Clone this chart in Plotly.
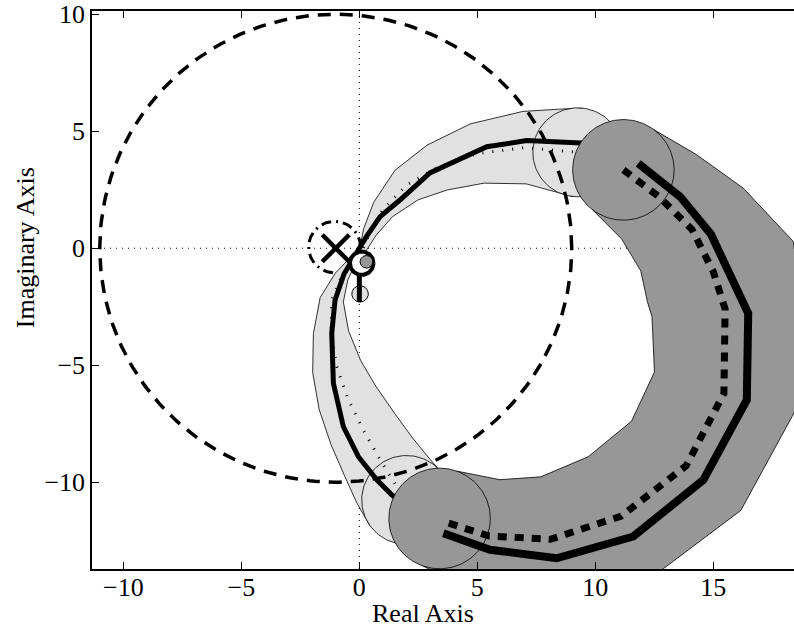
import numpy as np
import plotly.graph_objects as go

# ---- data -------------------------------------------------------------
# nominal response: centres and radii of the light uncertainty discs
nom_re = [2.0, 1.4, 0.8, 0.13, -0.5, -0.96, -1.2, -1.17, -0.75, -0.25, 0.15,
          0.45, 1.0, 2.0, 3.3, 5.0, 7.0, 8.3, 9.25]
nom_im = [-10.76, -9.9, -8.9, -7.7, -6.4, -5.06, -3.6, -2.2, -1.2, -0.5, -0.05,
          0.7, 1.65, 2.7, 3.45, 4.05, 4.3, 4.2, 4.1]
nom_rad = [1.9, 1.8, 1.65, 1.5, 1.3, 1.05, 0.75, 0.5, 0.3, 0.15, 0.15,
           0.3, 0.5, 0.8, 1.05, 1.3, 1.55, 1.75, 1.9]

# measured response drawn over the light band
meas_re = [2.0, 1.37, 0.74, -0.04, -0.68, -1.10, -1.17, -1.03, -0.65, -0.2, 0.3,
           0.88, 1.72, 2.99, 5.40, 7.09, 9.21, 10.3]
meas_im = [-11.0, -10.54, -9.90, -8.91, -7.62, -5.77, -3.63, -2.21, -1.1, -0.3, 0.5,
           1.35, 2.06, 3.22, 4.34, 4.60, 4.49, 4.45]

# low-frequency uncertainty region: centres and radii of the dark discs
reg_re = [11.19, 12.7, 14.1, 15.3, 15.6, 15.5, 13.85, 11.1, 8.1, 5.5, 3.4]
reg_im = [3.35, 2.2, 0.8, -1.0, -2.8, -6.1, -9.3, -11.45, -12.44, -12.3, -11.55]
reg_rad = [2.15, 2.4, 2.8, 3.35, 3.2, 3.1, 3.0, 2.9, 2.7, 2.45, 2.15]

# estimated low-frequency response (dashed)
est_re = [11.19, 12.7, 14.1, 15.0, 15.5, 15.45, 13.85, 11.1, 8.1, 5.5, 3.56]
est_im = [3.35, 2.2, 0.8, -1.0, -2.6, -6.2, -9.3, -11.45, -12.44, -12.3, -11.68]

# true low-frequency response (solid)
true_re = [11.82, 13.6, 14.9, 15.85, 16.48, 16.42, 14.58, 11.61, 8.36, 5.54, 3.56]
true_im = [3.63, 2.2, 0.6, -1.35, -2.78, -6.48, -9.90, -12.32, -13.25, -12.89, -12.18]

# critical point and circles around it
crit = (-1.0, 0.0)
big_circle = (-1.0, 0.0, 10.0)
small_circle = (-1.05, 0.05, 1.1)

# high-frequency end near the origin
hf_ring = (0.1, -0.64, 0.5)
hf_core = (0.3, -0.58, 0.27)
hf_disc = (0.03, -1.95, 0.35)
hf_bar_re = [0.0, 0.0]
hf_bar_im = [-0.95, -2.3]

x_ticks = [-10, -5, 0, 5, 10, 15]
y_ticks = [-10, -5, 0, 5, 10]
x_range = [-11.33, 18.42]
y_range = [-13.71, 10.14]

LIGHT = "#e1e1e1"
DARK = "#979797"
FONT = "Liberation Serif"
FSIZE = 26


def circle(cx, cy, r, n=160):
    t = np.linspace(0, 2 * np.pi, n)
    return cx + r * np.cos(t), cy + r * np.sin(t)


def envelope(xs, ys, rs):
    p = np.column_stack([xs, ys]).astype(float)
    r = np.asarray(rs, float)
    t = np.gradient(p, axis=0)
    t /= np.linalg.norm(t, axis=1)[:, None]
    n = np.column_stack([-t[:, 1], t[:, 0]])
    left = p + r[:, None] * n
    right = p - r[:, None] * n
    poly = np.vstack([left, right[::-1], left[:1]])
    return poly[:, 0], poly[:, 1]


fig = go.Figure()


def add_line(x, y, **kw):
    fig.add_trace(go.Scatter(x=x, y=y, mode="lines", hoverinfo="skip", **kw))


# small dash-dot circle round the critical point
cx, cy = circle(*small_circle)
add_line(cx, cy, line=dict(color="black", width=3, dash="10px,5px,2px,5px"))

# light band
bx, by = envelope(nom_re, nom_im, nom_rad)
add_line(bx, by, fill="toself", fillcolor=LIGHT, line=dict(color="black", width=0.8))
for i in (0, -1):
    dx, dy = circle(nom_re[i], nom_im[i], nom_rad[i])
    add_line(dx, dy, fill="toself", fillcolor=LIGHT, line=dict(color="black", width=0.8))
add_line(meas_re, meas_im, line=dict(color="black", width=5))
add_line(nom_re, nom_im, line=dict(color="black", width=3, dash="1px,9px"))

# high-frequency end
dx, dy = circle(*hf_disc)
add_line(dx, dy, fill="toself", fillcolor=LIGHT, line=dict(color="black", width=1))
add_line(hf_bar_re, hf_bar_im, line=dict(color="black", width=5))
dx, dy = circle(*hf_ring)
add_line(dx, dy, fill="toself", fillcolor="white", line=dict(color="black", width=4))
dx, dy = circle(*hf_core)
add_line(dx, dy, fill="toself", fillcolor=DARK, line=dict(color="black", width=1))

# dark band
bx, by = envelope(reg_re, reg_im, reg_rad)
add_line(bx, by, fill="toself", fillcolor=DARK, line=dict(color="black", width=0.8))
for i in (0, -1):
    dx, dy = circle(reg_re[i], reg_im[i], reg_rad[i])
    add_line(dx, dy, fill="toself", fillcolor=DARK, line=dict(color="black", width=0.8))
add_line(true_re, true_im, line=dict(color="black", width=8))
add_line(est_re, est_im, line=dict(color="black", width=7, dash="9px,8px"))

# dashed circle of radius 10 round the critical point
cx, cy = circle(*big_circle, n=300)
add_line(cx, cy, line=dict(color="black", width=3.5, dash="13px,9px"))

# critical point
fig.add_trace(go.Scatter(x=[crit[0]], y=[crit[1]], mode="markers", hoverinfo="skip",
                         marker=dict(symbol="x-thin", size=27, color="black",
                                     line=dict(color="black", width=4.5))))

# dotted zero lines
fig.add_shape(type="line", xref="x", yref="paper", x0=0, x1=0, y0=0, y1=1,
              line=dict(color="black", width=1, dash="1px,5px"), layer="below")
fig.add_shape(type="line", xref="paper", yref="y", x0=0, x1=1, y0=0, y1=0,
              line=dict(color="black", width=1, dash="1px,5px"), layer="below")

axis_common = dict(showgrid=False, zeroline=False, ticks="inside", ticklen=7,
                   tickwidth=1, tickcolor="black", showline=True, linecolor="black",
                   linewidth=1.5, tickfont=dict(family=FONT, size=FSIZE, color="black"))

title_font = dict(family=FONT, size=FSIZE, color="black")

fig.update_layout(
    width=794, height=635,
    margin=dict(l=92, r=0, t=11, b=66),
    paper_bgcolor="white", plot_bgcolor="white",
    showlegend=False,
    xaxis=dict(range=x_range, tickvals=x_ticks, mirror="ticks",
               ticklabelstandoff=-6, **axis_common),
    yaxis=dict(range=y_range, tickvals=y_ticks, mirror=False, **axis_common),
    annotations=[
        dict(text="Real Axis", xref="x", yref="paper", x=2.7, y=0, yshift=-44,
             showarrow=False, xanchor="center", yanchor="middle", font=title_font),
        dict(text="Imaginary Axis", xref="paper", yref="y", x=0, xshift=-67, y=0,
             textangle=-90, showarrow=False, xanchor="center", yanchor="middle",
             font=title_font),
    ],
)

fig.write_html("out.html")
